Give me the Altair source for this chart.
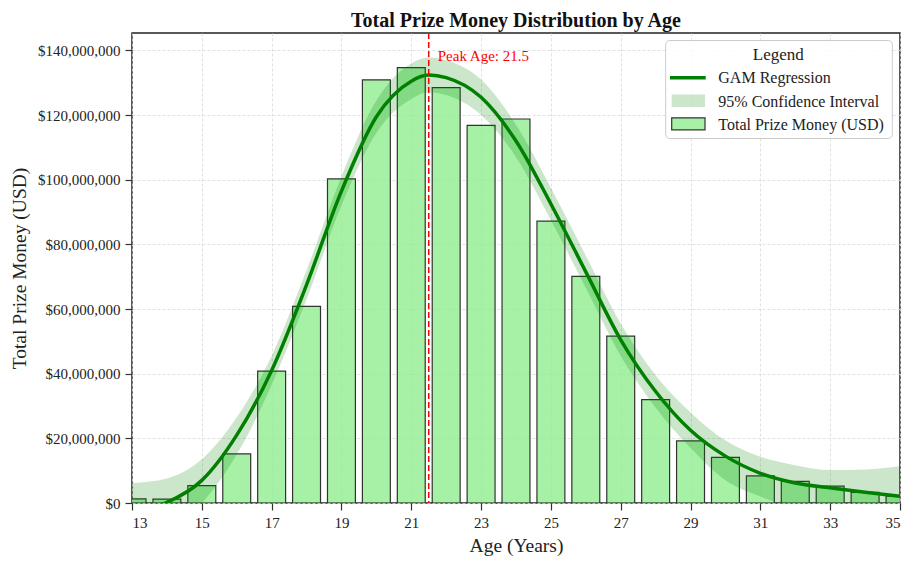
import altair as alt
import pandas as pd

# ---------------- data (values in millions of USD) ----------------
ages = list(range(13, 36))
prize_musd = [1.3, 1.2, 5.4, 15.2, 40.8, 60.8, 100.3, 130.9, 134.7, 128.5, 116.8, 118.8,
              87.2, 70.1, 51.6, 32.0, 19.2, 14.1, 8.4, 6.7, 5.2, 3.3, 2.1]

gam_ages = [13, 14, 15, 16, 17, 18, 19, 20, 21, 21.5, 22, 23, 24, 25, 26, 27, 28, 29, 30,
            31, 32, 33, 34, 35]
gam_musd = [-2.5, 0.2, 7.0, 21.0, 41.0, 67.5, 96.5, 119.5, 130.5, 132.4, 131.6, 125.5, 112.0,
            92.5, 71.5, 50.5, 34.5, 22.5, 14.5, 9.2, 6.2, 4.7, 3.3, 2.1]
ci_upper_musd = [6.2, 7.6, 13.5, 26.5, 45.5, 72.0, 101.0, 124.5, 136.0, 137.8, 137.0, 131.0,
                 117.0, 97.5, 76.5, 55.5, 39.5, 28.0, 19.3, 14.3, 11.7, 10.2, 10.4, 11.4]
ci_lower_musd = [-12.0, -8.0, 0.0, 15.0, 36.5, 63.0, 92.0, 114.5, 125.0, 127.1, 126.2, 120.0,
                 107.0, 87.5, 66.5, 45.5, 29.5, 17.0, 7.0, 2.0, -1.5, -3.0, -5.0, -7.0]

peak_age = 21.5
x_ticks = list(range(13, 36, 2))
legend_labels = ["GAM Regression", "95% Confidence Interval", "Total Prize Money (USD)"]

# ---------------- tables ----------------
bars_df = pd.DataFrame({"age": ages, "prize": [v * 1e6 for v in prize_musd]})
gam_df = pd.DataFrame({
    "age": gam_ages,
    "fit": [v * 1e6 for v in gam_musd],
    "lo": [v * 1e6 for v in ci_lower_musd],
    "hi": [v * 1e6 for v in ci_upper_musd],
})
peak_df = pd.DataFrame({"age": [peak_age], "label": [f"Peak Age: {peak_age}"]})
one = pd.DataFrame({"k": [0]})

FONT = "Liberation Serif"
W, H = 768, 470

xscale = alt.Scale(domain=[13, 35], nice=False, zero=False)
yscale = alt.Scale(domain=[0, 145.4e6], nice=False)

xaxis = alt.Axis(values=x_ticks, title="Age (Years)", format="d")
yaxis = alt.Axis(values=[i * 20e6 for i in range(8)], format="$,.0f",
                 title="Total Prize Money (USD)")

bars = alt.Chart(bars_df).transform_calculate(
    x0="datum.age - 0.4", x1="datum.age + 0.4"
).mark_rect(
    fill="#90EE90", fillOpacity=0.8, stroke="#333333", strokeWidth=1.2, clip=True
).encode(
    x=alt.X("x0:Q", scale=xscale, axis=xaxis),
    x2="x1:Q",
    y=alt.Y("prize:Q", scale=yscale, axis=yaxis),
    y2=alt.datum(0),
)

band = alt.Chart(gam_df).mark_area(
    color="green", opacity=0.2, interpolate="monotone", clip=True
).encode(
    x=alt.X("age:Q", scale=xscale),
    y=alt.Y("lo:Q", scale=yscale),
    y2="hi:Q",
)

curve = alt.Chart(gam_df).mark_line(
    color="green", strokeWidth=3.5, interpolate="monotone", clip=True
).encode(
    x=alt.X("age:Q", scale=xscale),
    y=alt.Y("fit:Q", scale=yscale),
)

peak_rule = alt.Chart(peak_df).mark_rule(
    color="red", strokeDash=[6, 3], strokeWidth=1.5
).encode(x=alt.X("age:Q", scale=xscale))

peak_text = alt.Chart(peak_df).mark_text(
    color="red", font=FONT, fontSize=15, align="left", baseline="middle", dx=9
).encode(x=alt.X("age:Q", scale=xscale), y=alt.value(23), text="label:N")

# ---------------- legend (upper right, inside the plot) ----------------
LX = -5  # legend anchored to the right side of the plot
leg_frame = alt.Chart(one).mark_rect(
    fill="white", fillOpacity=0.85, stroke="#cccccc", strokeWidth=1, cornerRadius=4
).encode(x=alt.value(538.7 + LX), x2=alt.value(765.3 + LX), y=alt.value(7.5), y2=alt.value(105.5))

leg_title = alt.Chart(one).mark_text(
    text="Legend", font=FONT, fontSize=17, color="#222222", align="center", baseline="middle"
).encode(x=alt.value(651.3 + LX), y=alt.value(21.5))

leg_line = alt.Chart(one).mark_rule(color="green", strokeWidth=3.5).encode(
    x=alt.value(543 + LX), x2=alt.value(578.7 + LX), y=alt.value(44.8))

leg_ci = alt.Chart(one).mark_rect(color="green", opacity=0.2).encode(
    x=alt.value(544.7 + LX), x2=alt.value(578 + LX), y=alt.value(61.5), y2=alt.value(74))

leg_bar = alt.Chart(one).mark_rect(
    fill="#90EE90", fillOpacity=0.8, stroke="#333333", strokeWidth=1.2
).encode(x=alt.value(544.7 + LX), x2=alt.value(578 + LX), y=alt.value(84.8), y2=alt.value(96.8))

leg_texts = []
for lab, yy in zip(legend_labels, [44.8, 68.5, 91.5]):
    leg_texts.append(
        alt.Chart(one).mark_text(
            text=lab, font=FONT, fontSize=16, color="#222222", align="left", baseline="middle"
        ).encode(x=alt.value(591.3 + LX), y=alt.value(yy))
    )

chart = alt.layer(
    bars, band, curve, peak_rule, peak_text,
    leg_frame, leg_title, leg_line, leg_ci, leg_bar, *leg_texts
).properties(
    width=W, height=H,
    autosize=alt.AutoSizeParams(type="none"),
    padding={"left": 124, "top": 25, "right": 8, "bottom": 55},
    title=alt.TitleParams(
        "Total Prize Money Distribution by Age",
        font=FONT, fontSize=20, fontWeight="bold", color="#111111",
        anchor="middle", offset=1,
    ),
).configure_view(
    stroke="#222222", strokeWidth=1.5
).configure_axis(
    labelFont=FONT, labelFontSize=15, labelColor="#222222",
    titleFont=FONT, titleFontSize=19.5, titleFontWeight="normal", titleColor="#222222",
    grid=True, gridColor="#d9d9d9", gridDash=[3, 2], gridWidth=0.8,
    tickColor="#333333", tickSize=7, tickWidth=1.2,
    domain=False, labelPadding=5,
).configure_axisY(
    titlePadding=8,
).configure_axisX(
    titlePadding=6,
)

chart.save("out.html", embed_options={"renderer": "svg", "actions": False})
